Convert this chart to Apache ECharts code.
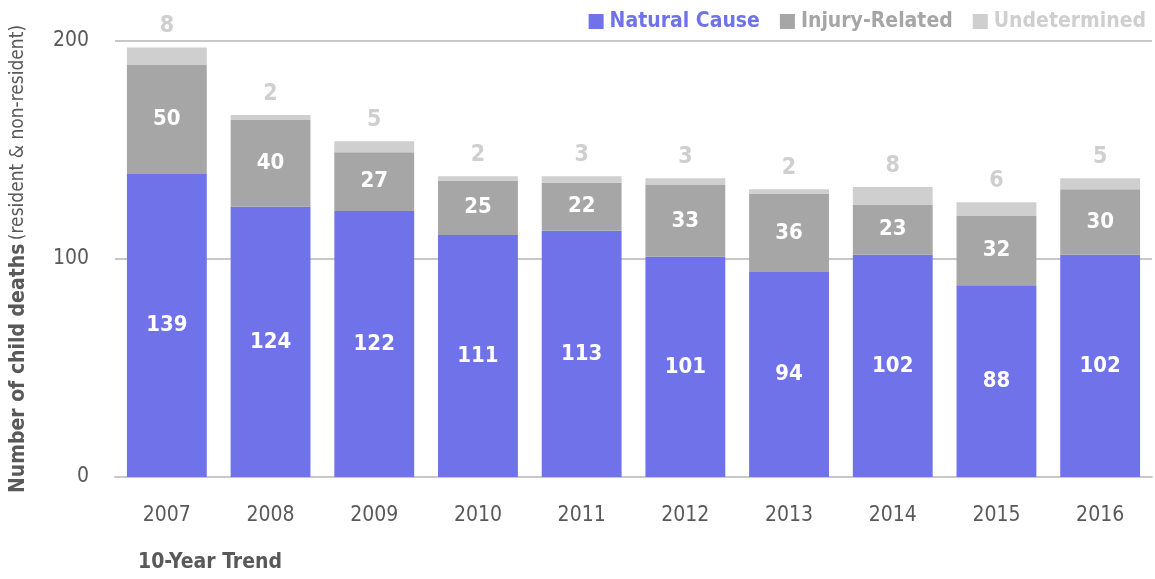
<!DOCTYPE html>
<html>
<head>
    <meta charset="utf-8">
    <title>10-Year Trend</title>
    <script src="https://cdn.jsdelivr.net/npm/echarts@6/dist/echarts.min.js"></script>
    <style>
        body { margin: 0; background: #fff; }
        #main { width: 1155px; height: 579px; }
    </style>
</head>
<body>
<div id="main"></div>
<script type="text/javascript">
    // data
    var years = ['2007', '2008', '2009', '2010', '2011', '2012', '2013', '2014', '2015', '2016'];
    var natural = [139, 124, 122, 111, 113, 101, 94, 102, 88, 102];
    var injury = [50, 40, 27, 25, 22, 33, 36, 23, 32, 30];
    var undetermined = [8, 2, 5, 2, 3, 3, 2, 8, 6, 5];

    var font = "'Liberation Sans Narrow', 'DejaVu Sans Condensed', 'Noto Sans', sans-serif";
    var cNatural = '#6f72e9', cInjury = '#a6a6a6', cUndet = '#d0cfd0';

    var myChart = echarts.init(document.getElementById('main'));

    var inLabel = {
        show: true,
        color: '#fff',
        fontFamily: font,
        fontWeight: 'bold',
        fontSize: 22
    };

    var option = {
        animation: false,
        textStyle: { fontFamily: font },
        grid: { left: 115, right: 3, top: 41, bottom: 102, outerBoundsMode: 'none' },
        legend: {
            right: 4,
            top: 6,
            itemWidth: 15,
            itemHeight: 15,
            itemGap: 20,
            icon: 'rect',
            textStyle: { fontFamily: font, fontWeight: 'bold', fontSize: 21, padding: [0, 0, 0, 1] },
            data: [
                { name: 'Natural Cause', textStyle: { color: cNatural } },
                { name: 'Injury-Related', textStyle: { color: cInjury } },
                { name: 'Undetermined', textStyle: { color: cUndet } }
            ]
        },
        xAxis: {
            type: 'category',
            data: years,
            axisTick: { show: false },
            axisLine: { lineStyle: { color: '#c8c8c8', width: 2 } },
            axisLabel: { color: '#595959', fontSize: 21, fontFamily: font, margin: 28 }
        },
        yAxis: {
            type: 'value',
            min: 0,
            max: 200,
            interval: 100,
            axisLabel: { color: '#595959', fontSize: 21, fontFamily: font, margin: 26 },
            splitLine: { lineStyle: { color: '#c8c8c8', width: 2 } },
            name: '{b|Number of child deaths} {l|(resident & non-resident)}',
            nameLocation: 'middle',
            nameGap: 86,
            nameTextStyle: {
                rich: {
                    b: { fontFamily: font, fontWeight: 'bold', fontSize: 21, color: '#595959' },
                    l: { fontFamily: font, fontSize: 19, color: '#595959' }
                }
            }
        },
        series: [
            {
                name: 'Natural Cause',
                type: 'bar',
                stack: 'total',
                barWidth: '77%',
                itemStyle: { color: cNatural },
                label: inLabel,
                data: natural
            },
            {
                name: 'Injury-Related',
                type: 'bar',
                stack: 'total',
                itemStyle: { color: cInjury },
                label: inLabel,
                data: injury
            },
            {
                name: 'Undetermined',
                type: 'bar',
                stack: 'total',
                itemStyle: { color: cUndet },
                label: {
                    show: true,
                    position: 'top',
                    distance: 10,
                    color: cUndet,
                    fontFamily: font,
                    fontWeight: 'bold',
                    fontSize: 23,
                    backgroundColor: '#fff',
                    padding: [0, 12]
                },
                data: undetermined
            }
        ],
        graphic: [
            {
                type: 'text',
                left: 138,
                top: 552,
                style: {
                    text: '10-Year Trend',
                    fill: '#595959',
                    font: 'bold 21px ' + font
                }
            }
        ]
    };

    myChart.setOption(option);
</script>
</body>
</html>
